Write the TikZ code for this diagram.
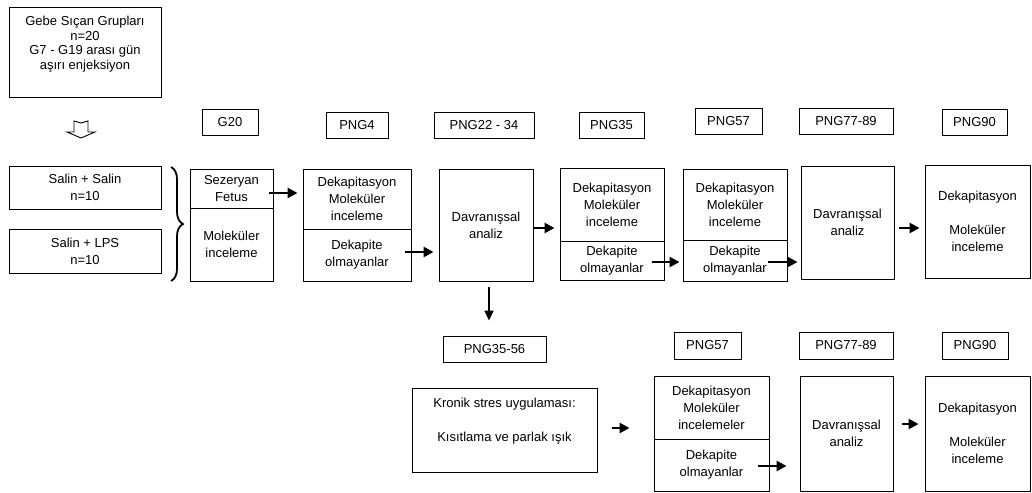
\documentclass[tikz,border=0pt]{standalone}
\usepackage{fontspec}
\setmainfont{Liberation Sans}
\usetikzlibrary{arrows.meta,decorations.pathreplacing}
\begin{document}
\begin{tikzpicture}[x=1pt,y=-1pt,
  box/.style={draw, line width=0.9pt, inner sep=0pt, align=center,
    font=\fontsize{13}{17}\selectfont},
  txt/.style={inner sep=0pt, align=center, font=\fontsize{13}{14.5}\selectfont},
  arr/.style={line width=2.7pt, -{Triangle[length=10pt,width=10pt]}}]
\useasboundingbox (0,0) rectangle (1032,492);

% left column
\node[box, minimum width=152, minimum height=90] (top) at (85,52) {};
\node[txt] (toptxt) at (85,44) {Gebe Sıçan Grupları\\n=20\\G7 - G19 arası gün\\aşırı enjeksiyon};
\draw[line width=0.9pt] (74,121) -- (81,123) -- (88,121) -- (88,132) -- (95,132) -- (81,138) -- (67,132) -- (74,132) -- cycle;
\node[box, minimum width=152, minimum height=43] (s1) at (85,187.5) {Salin + Salin\\n=10};
\node[box, minimum width=152, minimum height=44] (s2) at (85,251) {Salin + LPS\\n=10};
\draw[line width=1.8pt, decorate, decoration={brace, amplitude=12pt}] (171,167) -- (171,281);

% top labels
\node[box, minimum width=56, minimum height=26] (lG20) at (230,122) {G20};
\node[box, minimum width=62, minimum height=26] (lP4) at (357,125) {PNG4};
\node[box, minimum width=100, minimum height=26] (lP22) at (484,125) {PNG22 - 34};
\node[box, minimum width=65, minimum height=26] (lP35) at (611.5,125) {PNG35};
\node[box, minimum width=67, minimum height=26] (lP57) at (728.5,121) {PNG57};
\node[box, minimum width=94, minimum height=26] (lP77) at (846,121) {PNG77-89};
\node[box, minimum width=65, minimum height=26] (lP90) at (974.5,122) {PNG90};

% top row boxes
\node[box, minimum width=83, minimum height=39] (sezT) at (231.5,188.5) {Sezeryan\\Fetus};
\node[box, minimum width=83, minimum height=73] (sezB) at (231.5,244.5) {Moleküler\\inceleme};
\node[box, minimum width=108, minimum height=60] (p4T) at (357,199) {Dekapitasyon\\Moleküler\\inceleme};
\node[box, minimum width=108, minimum height=52] (p4B) at (357,255) {Dekapite\\olmayanlar};
\node[box, minimum width=94, minimum height=112] (dav1) at (486,225) {Davranışsal\\analiz};
\node[box, minimum width=104, minimum height=73] (p35T) at (612,204.5) {Dekapitasyon\\Moleküler\\inceleme};
\node[box, minimum width=104, minimum height=39] (p35B) at (612,260.5) {Dekapite\\olmayanlar};
\node[box, minimum width=104, minimum height=71] (p57T) at (735,204.5) {Dekapitasyon\\Moleküler\\inceleme};
\node[box, minimum width=104, minimum height=41] (p57B) at (735,260.5) {Dekapite\\olmayanlar};
\node[box, minimum width=93, minimum height=113] (dav2) at (847.5,222.5) {Davranışsal\\analiz};
\node[box, minimum width=105, minimum height=113] (p90) at (977.5,221.5) {Dekapitasyon\\[17pt]Moleküler\\inceleme};

% top row arrows
\draw[arr, shorten <=-4pt, shorten >=5pt] ([yshift=-4.5pt]sezT.east) -- ([yshift=-4.5pt]sezT.east -| p4T.west);
\draw[arr, shorten <=-6pt, shorten >=5pt] ([yshift=3pt]p4B.east) -- ([yshift=3pt]p4B.east -| dav1.west);
\draw[arr, shorten <=1pt, shorten >=5pt] ([yshift=-3pt]dav1.east) -- ([yshift=-3pt]dav1.east -| p35T.west);
\draw[arr, shorten <=-12pt, shorten >=3pt] ([yshift=-1.5pt]p35B.east) -- ([yshift=-1.5pt]p35B.east -| p57B.west);
\draw[arr, shorten <=-19pt, shorten >=3pt] ([yshift=-1.5pt]p57B.east) -- ([yshift=-1.5pt]p57B.east -| dav2.west);
\draw[arr, shorten <=5pt, shorten >=5pt] ([yshift=-5.5pt]dav2.east) -- ([yshift=-5.5pt]dav2.east -| p90.west);

% lower labels
\node[box, minimum width=103, minimum height=26] (lP3556) at (494.5,349) {PNG35-56};
\node[box, minimum width=67, minimum height=27] (lP57L) at (707.5,345.5) {PNG57};
\node[box, minimum width=94, minimum height=27] (lP77L) at (846,345.5) {PNG77-89};
\node[box, minimum width=66, minimum height=27] (lP90L) at (975,345.5) {PNG90};

\draw[line width=1.8pt, -{Triangle[length=10pt,width=9pt]}, shorten <=6pt, shorten >=15pt] ([xshift=3pt]dav1.south) -- ([xshift=3pt]dav1.south |- lP3556.north);

% lower row boxes
\node[box, minimum width=185, minimum height=84] (kron) at (504.5,430) {};
\node[txt, font=\fontsize{13}{17}\selectfont] (krontxt) at (504.5,421) {Kronik stres uygulaması:\\[17pt]Kısıtlama ve parlak ışık};
\node[box, minimum width=115, minimum height=63] (p57LT) at (711.5,407.5) {Dekapitasyon\\Moleküler\\incelemeler};
\node[box, minimum width=115, minimum height=52] (p57LB) at (711.5,465) {Dekapite\\olmayanlar};
\node[box, minimum width=93, minimum height=115] (davL) at (846.5,433.5) {Davranışsal\\analiz};
\node[box, minimum width=105, minimum height=115] (p90L) at (977.5,433.5) {Dekapitasyon\\[17pt]Moleküler\\inceleme};

% lower arrows
\draw[arr, shorten <=15pt, shorten >=24pt] ([yshift=2pt]kron.east) -- ([yshift=2pt]kron.east -| p57LT.west);
\draw[arr, shorten <=-11pt, shorten >=13pt] ([yshift=-1pt]p57LB.east) -- ([yshift=-1pt]p57LB.east -| davL.west);
\draw[arr, shorten <=9pt, shorten >=6pt] ([yshift=9.5pt]davL.east) -- ([yshift=9.5pt]davL.east -| p90L.west);
\end{tikzpicture}
\end{document}
